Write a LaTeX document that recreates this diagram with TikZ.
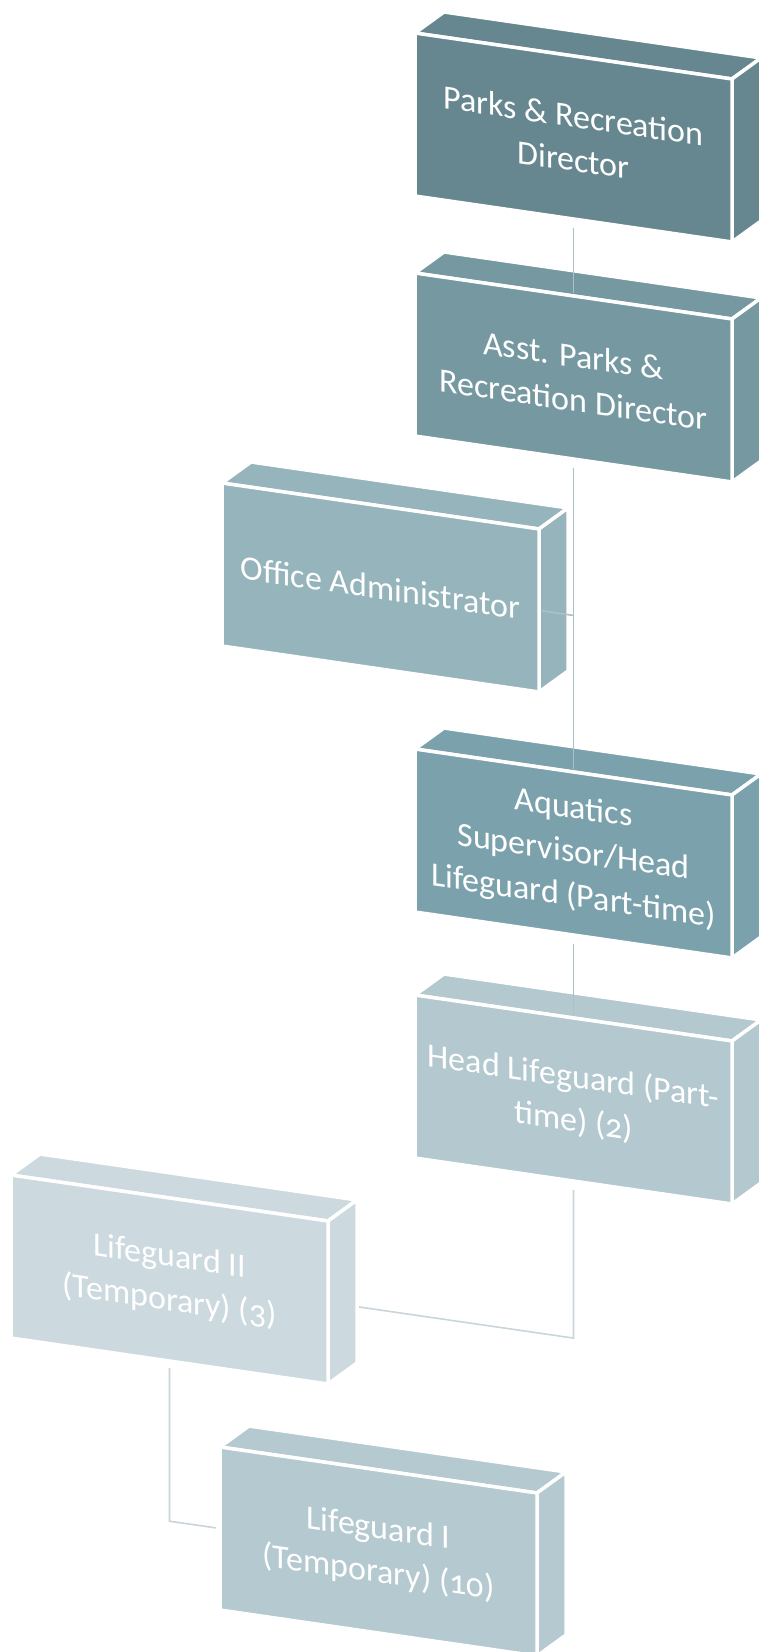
\documentclass[tikz,border=0pt]{standalone}
\usepackage{fontspec}
\setmainfont{Carlito}[Numbers=OldStyle]
\usetikzlibrary{calc}
\pgfdeclarelayer{paper}
\pgfdeclarelayer{behind}
\pgfdeclarelayer{background}
\pgfsetlayers{paper,behind,background,main}
\definecolor{cA}{RGB}{102,135,143}
\definecolor{cB}{RGB}{118,152,161}
\definecolor{cC}{RGB}{149,180,188}
\definecolor{cD}{RGB}{123,162,172}
\definecolor{cE}{RGB}{179,200,207}
\definecolor{cF}{RGB}{204,217,222}
\definecolor{cG}{RGB}{181,201,208}
\definecolor{lkA}{RGB}{170,193,200}
\definecolor{lkB}{RGB}{200,214,219}
\tikzset{
  face/.style={fill=#1, draw=white, line width=3.5pt, line join=miter},
  frontface/.style={fill=#1, draw=white, line width=3.5pt, rectangle,
    minimum width=317pt, minimum height=163pt, inner sep=0pt, outer sep=0pt,
    transform shape, text=white, align=center,
    font=\fontsize{34}{44}\selectfont},
  link/.style={draw=#1, line width=1.6pt},
}
% name, x, y, colour, text
\newcommand\slabbox[5]{%
  \begin{scope}[shift={(#2,#3)}, yslant=-0.145]
    \node[frontface=#4] (#1) at (158.5,81.5) {#5};
  \end{scope}
  \begin{pgfonlayer}{background}
    \draw[face=#4] (#1.north west) -- (#1.north east) -- ($(#1.north east)+(29,-21)$) -- ($(#1.north west)+(29,-21)$) -- cycle;
    \draw[face=#4] (#1.north east) -- ($(#1.north east)+(29,-21)$) -- ($(#1.south east)+(29,-21)$) -- (#1.south east) -- cycle;
  \end{pgfonlayer}
}
\begin{document}
\begin{tikzpicture}[x=1pt,y=-1pt]
\useasboundingbox (0,0) rectangle (758,1652);
\begin{pgfonlayer}{paper}
\fill[white] (0,0) rectangle (758,1652);
\end{pgfonlayer}

\slabbox{b1}{415}{33}{cA}{Parks \& Recreation\\Director}
\slabbox{b2}{415}{273}{cB}{Asst. Parks \&\\Recreation Director}
\slabbox{b3}{222}{483}{cC}{Office Administrator}
\slabbox{b4}{415}{749}{cD}{Aquatics\\Supervisor/Head\\Lifeguard (Part-time)}
\slabbox{b5}{415}{995}{cE}{Head Lifeguard (Part-\\time) (2)}
\slabbox{b6}{11}{1175}{cF}{Lifeguard II\\(Temporary) (3)}
\slabbox{b7}{220}{1447}{cG}{Lifeguard I\\(Temporary) (10)}

% connectors
\draw[link=lkA] ($(b1.south)+(0,9)$) -- ($(b2.north)+(0,-3)$);
\draw[link=lkA] ($(b2.south)+(0,9)$) -- ($(b4.north)+(0,-3)$);
\coordinate (j3) at ($(b3.east)+(34.5,5)$);
\draw[link=lkA] ($(b3.east)+(3,0.4)$) -- (j3);
\draw[link=lkA] ($(b4.south)+(0,9)$) -- ($(b5.north)+(0,-3)$);
\coordinate (j5) at ($(b6.east)+(245.5,35.6)$);
\begin{pgfonlayer}{behind}
\draw[link=lkB] ($(b5.south)+(0,9)$) -- (j5) -- (b6.east);
\end{pgfonlayer}
\coordinate (j6) at ($(b7.west)+(-50.5,-7.3)$);
\draw[link=lkB] ($(b6.south)+(0,7)$) -- (j6) -- ($(b7.west)+(-4,-0.6)$);
\end{tikzpicture}
\end{document}
